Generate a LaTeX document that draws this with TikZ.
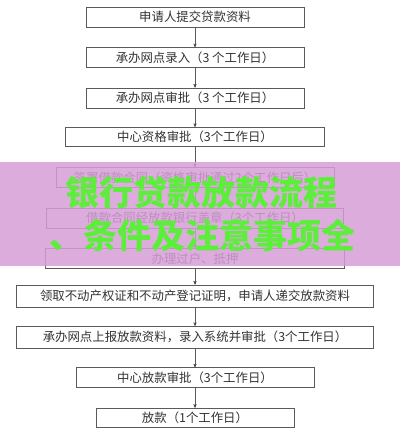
\documentclass[tikz,border=0pt]{standalone}
\usepackage{fontspec}
\setmainfont{Noto Sans CJK SC}
\usepackage{tikz}
\usetikzlibrary{positioning, arrows}

\definecolor{linegray}{RGB}{90,90,90}
\definecolor{textgray}{RGB}{50,50,50}
\definecolor{overlaypink}{RGB}{214,158,214}
\definecolor{markgreen}{RGB}{92,238,58}

\begin{document}
\begin{tikzpicture}[x=1pt, y=1pt, >=stealth', node distance=20pt and 0pt, thin,
											stepbox/.style={rectangle, draw=linegray, text=textgray, text centered, inner sep=0pt,
											                minimum height=20pt, minimum width=#1, font=\fontsize{12.4}{13}\selectfont},
											stepbox/.default=218pt,
											wide/.style={stepbox=357pt, minimum height=22pt},
											titlemark/.style={text=markgreen, font=\fontsize{34}{35}\bfseries\selectfont, inner sep=0pt}]

			  \useasboundingbox (0,0) rectangle (400,-428);

			  \node[stepbox]        (A) at (195,-17)  {申请人提交贷款资料};
			  \node[stepbox]        (B) [below=of A]  {承办网点录入（3 个工作日）};
			  \node[stepbox]        (C) [below=of B]  {承办网点审批（3 个工作日）};
			  \node[stepbox=259pt, minimum height=19pt] (D) [below=19pt of C] {中心资格审批（3个工作日）};
			  \node[stepbox=278pt]  (E) [below=21pt of D] {签署借款合同（资格审批通过2个工作日后）};
			  \node[stepbox=297pt]  (F) [below=of E]  {借款合同经放款银行盖章（3个工作日）};
			  \node[stepbox=299pt]  (G) [below=of F]  {办理过户、抵押};
			  \node[wide]           (H) [below=16pt of G] {领取不动产权证和不动产登记证明，申请人递交放款资料};
			  \node[wide]           (I) [below=19pt of H] {承办网点上报放款资料，录入系统并审批（3个工作日）};
			  \node[stepbox=238pt]  (J) [below=19pt of I] {中心放款审批（3个工作日）};
			  \node[stepbox=198pt, minimum height=19pt] (K) [below=of J] {放款（1个工作日）};

			  \path[->, draw=linegray] (A) edge (B)
			                          (B) edge (C)
			                          (C) edge (D)
			                          (D) edge (E)
			                          (E) edge (F)
			                          (F) edge (G)
			                          (G) edge (H)
			                          (H) edge (I)
			                          (I) edge (J)
			                          (J) edge (K);

			  % watermark band
			  \fill[overlaypink, opacity=0.85] (0,-162) rectangle (400,-266);
			  \node[titlemark] (title1) at (201,-193) {银行贷款放款流程};
			  \node[titlemark] (title2) at (202,-235) {、条件及注意事项全};

\end{tikzpicture}
\end{document}
